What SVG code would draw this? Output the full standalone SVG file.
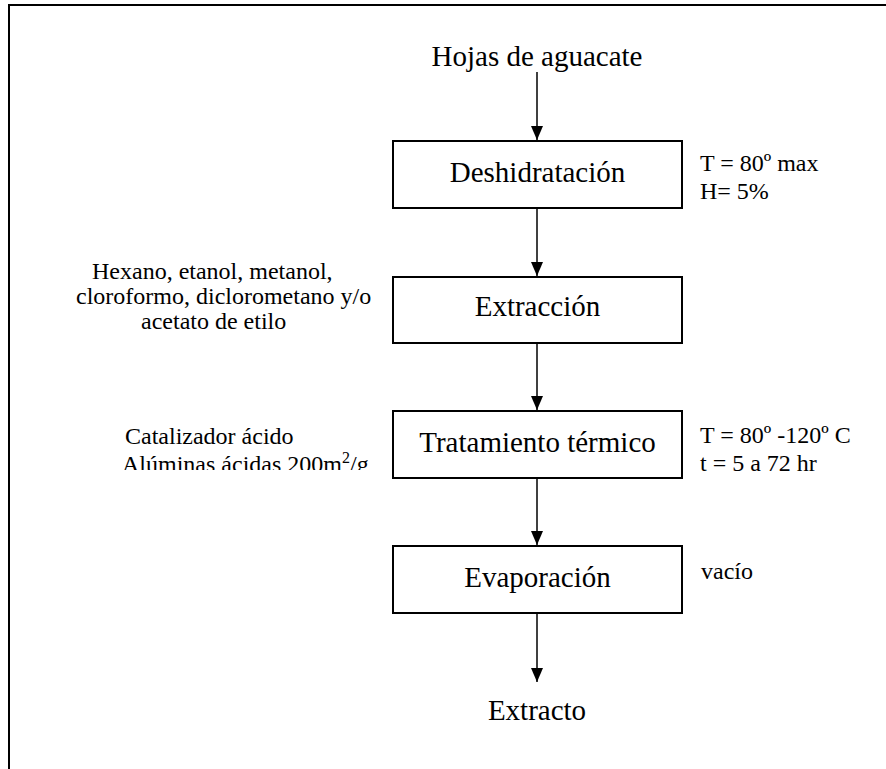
<svg xmlns="http://www.w3.org/2000/svg" width="886" height="769" viewBox="0 0 886 769">
<style>
text{font-family:"Liberation Serif","Times New Roman",serif;fill:#000}
.main{font-size:29px;text-anchor:middle}
.side{font-size:24px}
.box{fill:#fff;stroke:#000;stroke-width:2}
.conn{stroke:#000;stroke-width:1.5;fill:none;marker-end:url(#ah)}
</style>
<defs>
<marker id="ah" markerUnits="userSpaceOnUse" markerWidth="14" markerHeight="12" refX="14" refY="6" orient="auto" viewBox="0 0 14 12">
<path d="M0,0 L14,6 L0,12 Z" fill="#000"/>
</marker>
<clipPath id="clipAl"><rect x="0" y="380" width="400" height="90"/></clipPath>
</defs>
<rect width="886" height="769" fill="#fff"/>
<path d="M9,769 L9,5 L886,5" fill="none" stroke="#000" stroke-width="2"/>
<g id="connectors">
<line class="conn" x1="537" y1="72" x2="537" y2="140"/>
<line class="conn" x1="537" y1="208" x2="537" y2="276"/>
<line class="conn" x1="537" y1="343" x2="537" y2="410"/>
<line class="conn" x1="537" y1="478" x2="537" y2="545"/>
<line class="conn" x1="537" y1="613" x2="537" y2="682"/>
</g>
<g id="n-hojas"><text class="main" x="537" y="66">Hojas de aguacate</text></g>
<g id="n-deshidratacion">
<rect class="box" x="393" y="141" width="289" height="67"/>
<text class="main" x="537.5" y="182">Deshidratación</text>
</g>
<g id="n-deshidratacion-cond">
<text class="side" x="700" y="171">T = 80º max</text>
<text class="side" x="700" y="199">H= 5%</text>
</g>
<g id="n-extraccion">
<rect class="box" x="393" y="277" width="289" height="66"/>
<text class="main" x="537.5" y="316">Extracción</text>
</g>
<g id="n-solventes">
<text class="side" x="92" y="279">Hexano, etanol, metanol,</text>
<text class="side" x="76" y="304">cloroformo, diclorometano y/o</text>
<text class="side" x="141" y="329">acetato de etilo</text>
</g>
<g id="n-tratamiento">
<rect class="box" x="393" y="411" width="289" height="67"/>
<text class="main" x="537.5" y="452">Tratamiento térmico</text>
</g>
<g id="n-catalizador">
<text class="side" x="125" y="444">Catalizador ácido</text>
<text class="side" x="122" y="472" clip-path="url(#clipAl)">Alúminas ácidas 200m<tspan font-size="16" dy="-9">2</tspan><tspan dy="9">/g</tspan></text>
</g>
<g id="n-tratamiento-cond">
<text class="side" x="700" y="443">T = 80º -120º C</text>
<text class="side" x="700" y="471">t = 5 a 72 hr</text>
</g>
<g id="n-evaporacion">
<rect class="box" x="393" y="546" width="289" height="67"/>
<text class="main" x="537.5" y="587">Evaporación</text>
</g>
<g id="n-vacio"><text class="side" x="701" y="579">vacío</text></g>
<g id="n-extracto"><text class="main" x="537" y="720">Extracto</text></g>
</svg>
